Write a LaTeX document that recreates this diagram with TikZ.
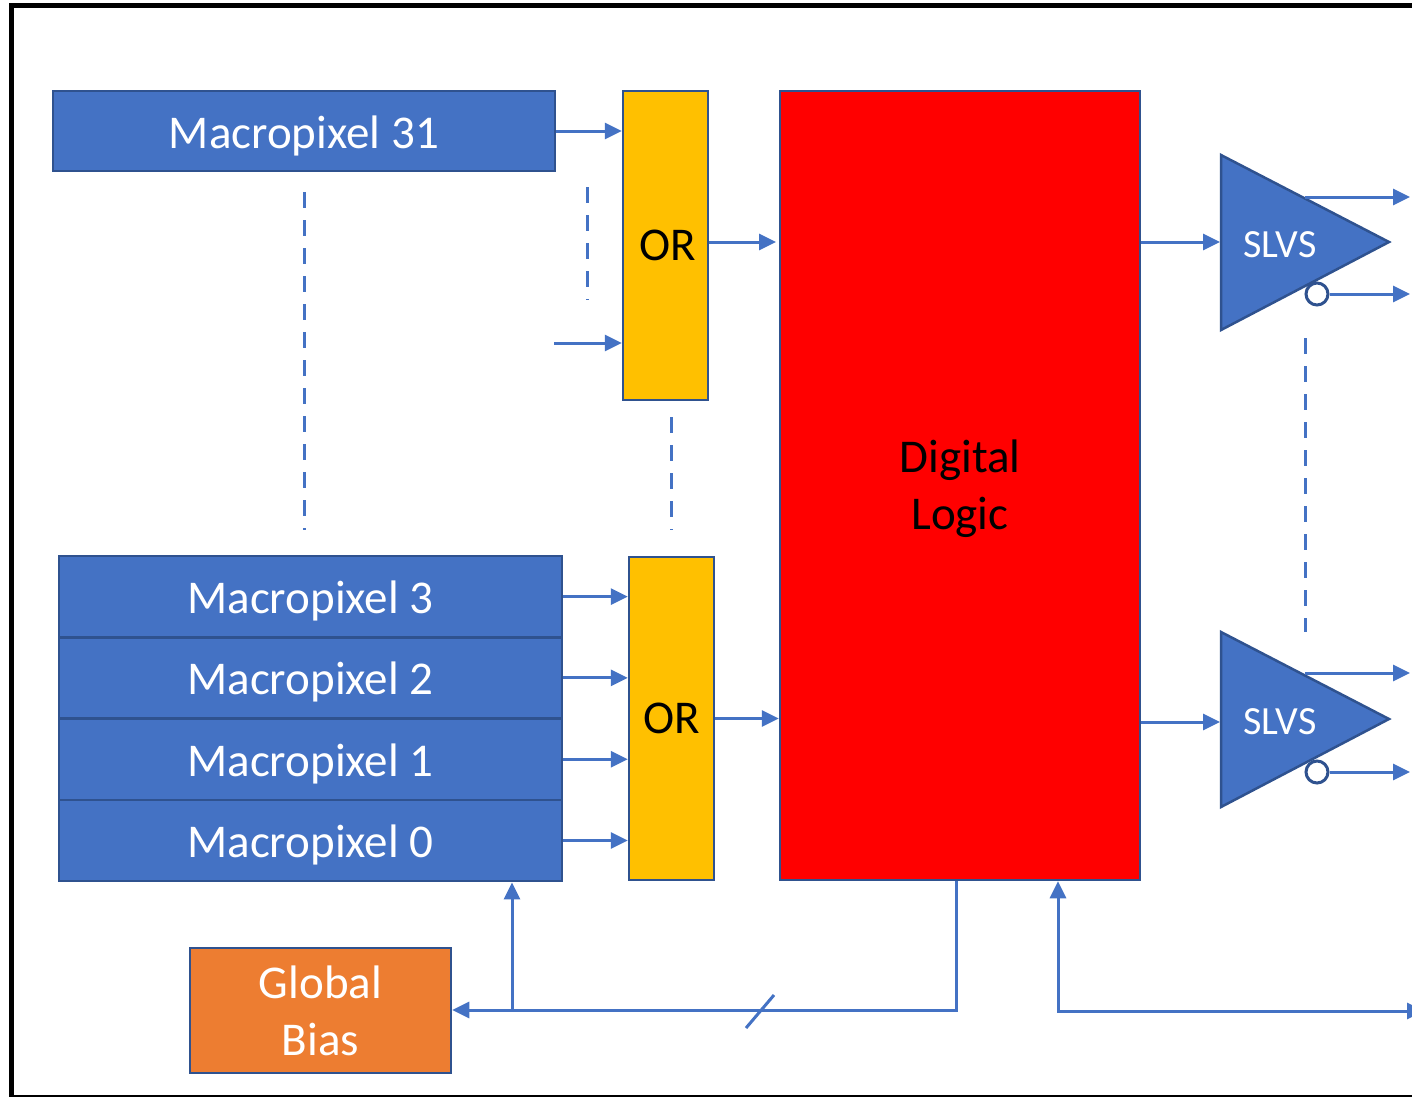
\documentclass[tikz,border=0pt]{standalone}
\usepackage{fontspec}
\setmainfont{Carlito}
\usetikzlibrary{arrows.meta}
\definecolor{pblue}{HTML}{4472C4}
\definecolor{pbdr}{HTML}{2F528F}
\definecolor{por}{HTML}{FFC000}
\definecolor{pred}{HTML}{FF0000}
\definecolor{porange}{HTML}{ED7D31}
\begin{document}
\begin{tikzpicture}[x=1pt,y=-1pt,
  box/.style={draw=pbdr,line width=2.5pt,inner sep=0pt,rectangle},
  bigfont/.style={font=\fontsize{47}{57}\selectfont},
  mpix/.style={box,fill=pblue,text=white,bigfont,minimum width=503pt,minimum height=81.3pt,text height=34pt,text depth=0pt},
  orbox/.style={box,fill=por,text=black,bigfont,minimum width=85pt},
  tri/.style={draw=pbdr,fill=pblue,line width=2.5pt,line join=miter},
  slvstext/.style={text=white,font=\fontsize{40}{48}\selectfont,inner sep=0pt},
  bubble/.style={circle,draw=pbdr,fill=white,line width=3pt,minimum size=22pt,inner sep=0pt},
  conn/.style={draw=pblue,line width=3pt,-{Triangle[length=17pt,width=16pt]}},
  plain/.style={draw=pblue,line width=3pt},
  dline/.style={draw=pblue,line width=3pt,dash pattern=on 16pt off 12pt},
]
\useasboundingbox (0,0) rectangle (1412,1096);
\clip (0,0) rectangle (1412,1096);
\fill[white] (0,0) rectangle (1412,1096);
\draw[line width=5pt] (11.5,5.8) rectangle (1450,1097.5);

% macropixels
\node[mpix,minimum width=502pt,minimum height=80pt] (m31) at (304,131) {Macropixel 31};
\node[mpix] (m3) at (310.5,596.6) {Macropixel 3};
\node[mpix] (m2) at (310.5,677.9) {Macropixel 2};
\node[mpix] (m1) at (310.5,759.2) {Macropixel 1};
\node[mpix] (m0) at (310.5,840.5) {Macropixel 0};

% OR gates
\node[orbox,minimum height=309pt] (or1) at (665.5,245.5) {\hspace*{5pt}OR};
\node[orbox,minimum height=323pt] (or2) at (671.5,718.5) {OR};

% digital logic
\node[box,fill=pred,bigfont,align=center,minimum width=360pt,minimum height=789pt] (dl) at (960,485.5) {\rule{0pt}{40pt}Digital\\Logic};

% global bias
\node[box,fill=porange,text=white,bigfont,align=center,minimum width=261pt,minimum height=125pt] (gb) at (320.5,1010.5) {Global\\Bias};

% SLVS 1
\coordinate (t1a) at (1221,155);
\coordinate (t1b) at (1221,330);
\coordinate (t1c) at (1389,242);
\draw[tri] (t1a) -- (t1c) -- (t1b) -- cycle;
\node[slvstext] (s1) at (1280,245) {SLVS};
\node[bubble] (c1) at (1317,294) {};
\coordinate (o1) at (1305,197);
\coordinate (e1) at (1410,197);
\draw[conn] (o1) -- (e1);
\draw[conn] (c1.east) -- (c1.east -| e1);
\coordinate (i1) at (1220,242);
\draw[conn] (dl.east |- i1) -- (i1);

% SLVS 2
\coordinate (t2a) at (1221,632);
\coordinate (t2b) at (1221,807);
\coordinate (t2c) at (1389,719);
\draw[tri] (t2a) -- (t2c) -- (t2b) -- cycle;
\node[slvstext] (s2) at (1280,722) {SLVS};
\node[bubble] (c2) at (1317,772) {};
\coordinate (o2) at (1305,673);
\coordinate (e2) at (1410,673);
\draw[conn] (o2) -- (e2);
\draw[conn] (c2.east) -- (c2.east -| e2);
\coordinate (i2) at (1220,722);
\draw[conn] (dl.east |- i2) -- (i2);

% inputs to OR gates
\draw[conn] (m31.east) -- (m31.east -| or1.west);
\coordinate (x2) at (554,343);
\draw[conn] (x2) -- (x2 -| or1.west);
\draw[conn] (m3.east) -- (m3.east -| or2.west);
\draw[conn] (m2.east) -- (m2.east -| or2.west);
\draw[conn] (m1.east) -- (m1.east -| or2.west);
\draw[conn] (m0.east) -- (m0.east -| or2.west);

% OR outputs
\coordinate (q1) at (776,242);
\draw[conn] (or1.east |- q1) -- (q1);
\draw[conn] (or2.east) -- (or2.east -| dl.west);

% dashed continuation lines
\coordinate (d1a) at (304,192); \coordinate (d1b) at (304,530);
\coordinate (d2a) at (587,187); \coordinate (d2b) at (587,300);
\coordinate (d3a) at (671,417); \coordinate (d3b) at (671,530);
\coordinate (d4a) at (1305,338); \coordinate (d4b) at (1305,632);
\draw[dline] (d1a) -- (d1b);
\draw[dline] (d2a) -- (d2b);
\draw[dline] (d3a) -- (d3b);
\draw[dline] (d4a) -- (d4b);

% bias bus
\coordinate (bj) at (956,1010);
\coordinate (bb) at (512,1010);
\draw[conn] (dl.south -| bj) -- (bj) -- (gb.east |- bj);
\draw[conn] (bb) -- (bb |- m0.south);
\coordinate (sl1) at (746,1028);
\coordinate (sl2) at (774,995);
\draw[plain] (sl1) -- (sl2);

% control input
\coordinate (rj) at (1058,1011);
\coordinate (re) at (1424,1011);
\draw[plain,{Triangle[length=17pt,width=16pt]}-{Triangle[length=17pt,width=16pt]}] (dl.south -| rj) -- (rj) -- (re);
\end{tikzpicture}
\end{document}
